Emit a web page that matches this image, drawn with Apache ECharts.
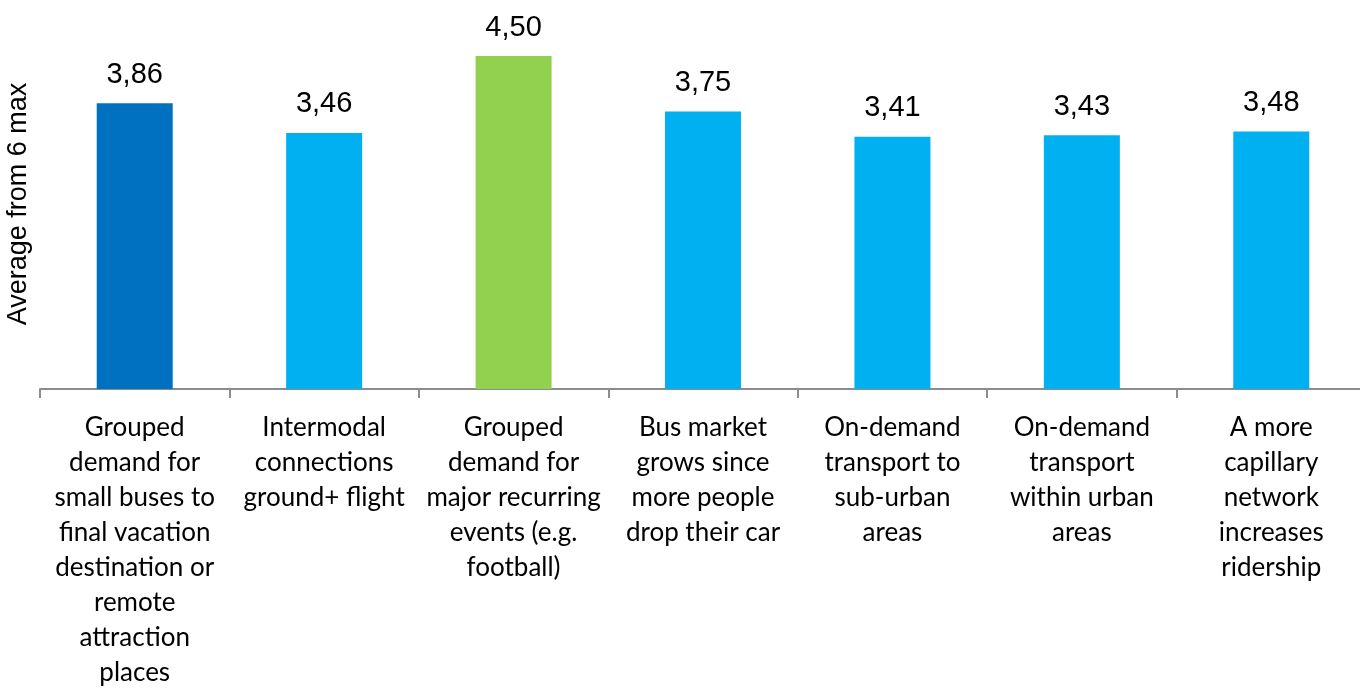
<!DOCTYPE html>
<html>
<head>
<meta charset="utf-8">
<script src="https://cdn.jsdelivr.net/npm/echarts@6/dist/echarts.min.js"></script>
<style>
  html, body { margin: 0; padding: 0; background: #ffffff; }
  #chart { width: 1360px; height: 691px; }
</style>
</head>
<body>
<div id="chart"></div>
<script>
// Survey answers: average score (out of 6) per scenario
const categories = [
  'Grouped\ndemand for\nsmall buses to\nfinal vacation\ndestination or\nremote\nattraction\nplaces',
  'Intermodal\nconnections\nground+ flight',
  'Grouped\ndemand for\nmajor recurring\nevents (e.g.\nfootball)',
  'Bus market\ngrows since\nmore people\ndrop their car',
  'On-demand\ntransport to\nsub-urban\nareas',
  'On-demand\ntransport\nwithin urban\nareas',
  'A more\ncapillary\nnetwork\nincreases\nridership'
];
const averages = [3.86, 3.46, 4.50, 3.75, 3.41, 3.43, 3.48];
const barColors = ['#0070C0', '#00B0F0', '#92D050', '#00B0F0', '#00B0F0', '#00B0F0', '#00B0F0'];
const axisTitle = 'Average from 6 max';

const chart = echarts.init(document.getElementById('chart'));
chart.setOption({
  animation: false,
  grid: { left: 40, right: -6, top: 19, bottom: 302, containLabel: false, outerBoundsMode: 'none' },
  xAxis: {
    type: 'category',
    data: categories,
    axisLine: { lineStyle: { color: '#8c8c8c', width: 2 } },
    axisTick: { show: true, length: 9, lineStyle: { color: '#8c8c8c', width: 2 } },
    axisLabel: {
      interval: 0,
      margin: 21,
      color: '#000000',
      fontFamily: 'Lato',
      fontSize: 26,
      lineHeight: 35,
      align: 'center'
    }
  },
  yAxis: {
    type: 'value',
    min: 0,
    max: 5,
    name: axisTitle,
    nameLocation: 'middle',
    nameGap: 8,
    nameTextStyle: { fontFamily: 'Liberation Sans', fontSize: 27, color: '#000000' },
    axisLine: { show: false },
    axisTick: { show: false },
    axisLabel: { show: false },
    splitLine: { show: false }
  },
  series: [{
    type: 'bar',
    barWidth: 76,
    data: averages.map((v, i) => ({ value: v, itemStyle: { color: barColors[i] } })),
    label: {
      show: true,
      position: 'top',
      distance: 14,
      fontFamily: 'Liberation Sans',
      fontSize: 29,
      color: '#000000',
      formatter: p => p.value.toFixed(2).replace('.', ',')
    }
  }]
});
</script>
</body>
</html>
